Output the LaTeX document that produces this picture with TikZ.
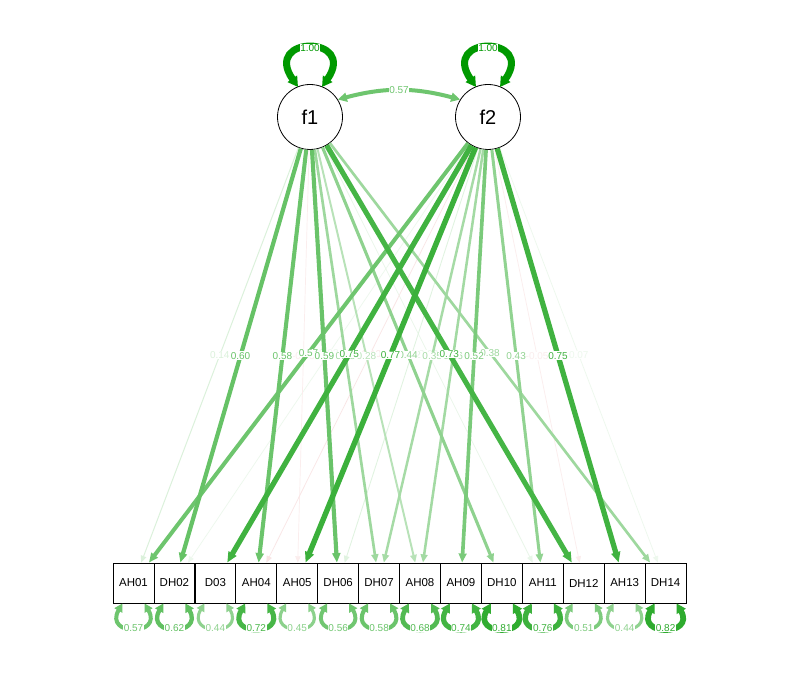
\documentclass[tikz,border=0pt]{standalone}
\usepackage{fontspec}
\setmainfont{Liberation Sans}
\usetikzlibrary{arrows.meta,calc}
\definecolor{posc}{RGB}{0,153,0}
\definecolor{negc}{RGB}{191,0,0}
\newcommand{\ldg}[5]{%
  \pgfmathsetmacro{\lw}{max(0.7,7*#3)}%
  \pgfmathsetmacro{\pc}{max(7,100*#3)}%
  \pgfmathsetmacro{\al}{6+6*#3}%
  \pgfmathsetmacro{\aw}{5+5*#3}%
  \draw[line width=\lw pt, draw=#4!\pc!white, -{Triangle[length=\al pt,width=\aw pt]}] (#1) -- node[lab, text=#4!\pc!white] {#5} (#2);%
}
\newcommand{\rsd}[3]{%
  \pgfmathsetmacro{\lw}{7*#2}%
  \pgfmathsetmacro{\pc}{100*#2}%
  \pgfmathsetmacro{\al}{6+4*#2}%
  \pgfmathsetmacro{\aw}{6+5*#2}%
  \draw[line width=\lw pt, draw=posc!\pc!white, {Triangle[length=\al pt,width=\aw pt]}-{Triangle[length=\al pt,width=\aw pt]}] ($(#1.south)+(-11,0)$) .. controls +(-19,-33) and +(19,-33) .. node[lab,text=posc!\pc!white]{#3} ($(#1.south)+(11,0)$);%
}
\begin{document}
\begin{tikzpicture}[x=1pt,y=1pt,
  lat/.style={circle,draw=black,line width=0.8pt,fill=white,minimum size=65pt,inner sep=0pt,font=\fontsize{20}{20}\selectfont},
  ind/.style={rectangle,draw=black,line width=0.8pt,fill=white,minimum width=40.9pt,minimum height=40pt,inner sep=0pt,font=\fontsize{11.5}{12}\selectfont},
  lab/.style={fill=white,inner sep=0.6pt,font=\fontsize{10}{10}\selectfont}]
\useasboundingbox (0,0) rectangle (800,700);
\fill[white] (0,0) rectangle (800,700);
\node[lat] (f1) at (310,583) {f1};
\node[lat] (f2) at (488,583) {f2};
\foreach \n [count=\i from 0] in {AH01,DH02,D03,AH04,AH05,DH06,DH07,AH08,AH09,DH10,AH11,DH12,AH13,DH14}
  \node[ind] (\n) at ({133.5+40.93*\i},117) {\n};
% loadings, ascending |w|
\ldg{f2}{DH02}{0.03}{posc}{0.03}
\ldg{f1}{AH05}{0.05}{negc}{-0.05}
\ldg{f2}{DH12}{0.05}{negc}{-0.05}
\ldg{f2}{DH14}{0.07}{posc}{0.07}
\ldg{f1}{AH11}{0.09}{posc}{0.09}
\ldg{f2}{AH04}{0.10}{negc}{-0.10}
\ldg{f2}{DH06}{0.12}{posc}{0.12}
\ldg{f1}{AH01}{0.14}{posc}{0.14}
\ldg{f1}{AH08}{0.28}{posc}{0.28}
\ldg{f2}{DH07}{0.35}{posc}{0.35}
\ldg{f2}{AH08}{0.36}{posc}{0.36}
\ldg{f1}{DH07}{0.38}{posc}{0.38}
\ldg{f1}{DH14}{0.38}{posc}{0.38}
\ldg{f2}{AH11}{0.43}{posc}{0.43}
\ldg{f1}{DH10}{0.44}{posc}{0.44}
\ldg{f2}{AH09}{0.52}{posc}{0.52}
\ldg{f2}{AH01}{0.57}{posc}{0.57}
\ldg{f1}{AH04}{0.58}{posc}{0.58}
\ldg{f1}{DH06}{0.59}{posc}{0.59}
\ldg{f1}{DH02}{0.60}{posc}{0.60}
\ldg{f1}{DH12}{0.73}{posc}{0.73}
\ldg{f2}{D03}{0.75}{posc}{0.75}
\ldg{f2}{AH13}{0.75}{posc}{0.75}
\ldg{f2}{AH05}{0.77}{posc}{0.77}
% residuals
\rsd{AH01}{0.57}{0.57}
\rsd{DH02}{0.62}{0.62}
\rsd{D03}{0.44}{0.44}
\rsd{AH04}{0.72}{0.72}
\rsd{AH05}{0.45}{0.45}
\rsd{DH06}{0.56}{0.56}
\rsd{DH07}{0.58}{0.58}
\rsd{AH08}{0.68}{0.68}
\rsd{AH09}{0.74}{0.74}
\rsd{DH10}{0.81}{0.81}
\rsd{AH11}{0.76}{0.76}
\rsd{DH12}{0.51}{0.51}
\rsd{AH13}{0.44}{0.44}
\rsd{DH14}{0.82}{0.82}
% factor variances
\foreach \f in {f1,f2}
  \draw[line width=7pt, draw=posc, {Triangle[length=10pt,width=11pt]}-{Triangle[length=10pt,width=11pt]}] ($(\f)+(-12,30)$) .. controls +(-36,52) and +(36,52) .. node[lab,text=posc]{1.00} ($(\f)+(12,30)$);
% covariance
\draw[line width=4pt, draw=posc!57!white, {Triangle[length=9pt,width=9pt]}-{Triangle[length=9pt,width=9pt]}] (f1.32) to[out=15,in=165] node[lab,text=posc!57!white]{0.57} (f2.148);
\end{tikzpicture}
\end{document}
